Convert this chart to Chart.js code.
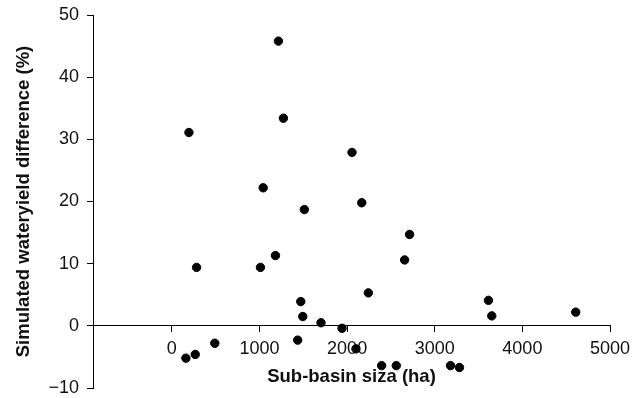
<!DOCTYPE html>
<html lang="en">
<head>
  <meta charset="UTF-8">
  <title>Sub-basin size vs simulated wateryield difference</title>
  <style>
    html, body { margin: 0; padding: 0; background: #ffffff; }
    #wrap { width: 641px; height: 398px; }
  </style>
</head>
<body>
  <div id="wrap">
    <canvas id="scatterChart" width="641" height="398"></canvas>
  </div>

  <script src="https://cdn.jsdelivr.net/npm/chart.js"></script>
  <script>
    // sub-basin size (ha)
    const basinSize = [195, 1216, 1273, 1042, 2056, 2167, 1512, 2713, 1182, 282,
                       1011, 2656, 2242, 1471, 3613, 1494, 3651, 4609, 1702, 1942,
                       160, 267, 490, 1436, 2101, 2394, 2561, 3180, 3282];
    // simulated wateryield difference (%)
    const yieldDiff = [31.1, 45.8, 33.4, 22.2, 27.9, 19.8, 18.7, 14.7, 11.3, 9.4,
                       9.4, 10.6, 5.3, 3.9, 4.1, 1.5, 1.6, 2.2, 0.5, -0.4,
                       -5.2, -4.6, -2.8, -2.3, -3.7, -6.4, -6.4, -6.4, -6.7];
    const xTicks = [0, 1000, 2000, 3000, 4000, 5000];
    const yTicks = [-10, 0, 10, 20, 30, 40, 50];

    const points = basinSize.map((x, i) => ({ x: x, y: yieldDiff[i] }));
    const fontFamily = "'Liberation Sans', Arial, Helvetica, sans-serif";

    new Chart(document.getElementById('scatterChart').getContext('2d'), {
      type: 'scatter',
      data: {
        datasets: [{
          data: points,
          backgroundColor: '#000000',
          borderColor: '#000000',
          pointRadius: 4.2,
          pointHoverRadius: 4.2
        }]
      },
      options: {
        responsive: false,
        animation: false,
        layout: { padding: { top: 15, right: 31, bottom: 10, left: 0 } },
        plugins: { legend: { display: false }, tooltip: { enabled: false } },
        scales: {
          x: {
            type: 'linear',
            position: { y: 0 },
            min: -900,
            max: 5000,
            afterBuildTicks: (scale) => { scale.ticks = xTicks.map(v => ({ value: v })); },
            afterFit: (scale) => {
              scale.height = 62;
              scale.paddingTop = 0;
              scale.paddingBottom = 0;
            },
            border: { display: true, color: '#000000', width: 1 },
            grid: { drawOnChartArea: false, drawTicks: true, tickLength: 6, color: '#000000' },
            ticks: {
              padding: 6,
              color: '#111111',
              font: { family: fontFamily, size: 18 },
              maxRotation: 0,
              callback: (v) => String(v)
            },
            title: {
              display: true,
              text: 'Sub-basin siza (ha)',
              color: '#111111',
              padding: 0,
              font: { family: fontFamily, size: 18.5, weight: 'bold' }
            }
          },
          y: {
            type: 'linear',
            position: 'left',
            min: -10,
            max: 50,
            afterBuildTicks: (scale) => { scale.ticks = yTicks.map(v => ({ value: v })); },
            afterFit: (scale) => {
              scale.width = 93;
              scale.paddingTop = 0;
              scale.paddingBottom = 0;
            },
            border: { display: true, color: '#000000', width: 1 },
            grid: { drawOnChartArea: false, drawTicks: true, tickLength: 6, color: '#000000' },
            ticks: {
              padding: 8,
              color: '#111111',
              font: { family: fontFamily, size: 18 },
              callback: (v) => v < 0 ? '\u2212' + Math.abs(v) : String(v)
            },
            title: {
              display: true,
              text: 'Simulated wateryield difference (%)',
              color: '#111111',
              padding: { top: 13, bottom: 0 },
              font: { family: fontFamily, size: 18.5, weight: 'bold' }
            }
          }
        }
      }
    });
  </script>
</body>
</html>
